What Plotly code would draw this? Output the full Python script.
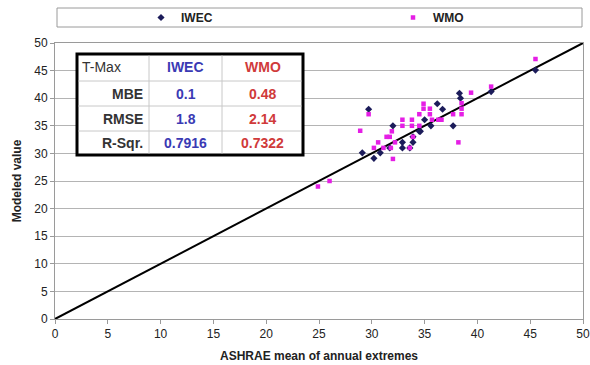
import plotly.graph_objects as go

# Observed (ASHRAE mean of annual extremes) vs modeled T-Max values
iwec_x = [29.7, 29.1, 30.2, 30.8, 31.7, 32.0, 32.9, 32.9, 33.6, 33.9, 33.9, 34.5,
          34.6, 35.0, 35.6, 36.2, 36.7, 37.7, 38.3, 38.4, 41.3, 45.5]
iwec_y = [38.0, 30.1, 29.1, 30.1, 31.0, 35.0, 32.0, 31.0, 31.0, 33.0, 32.0, 34.0,
          34.0, 36.1, 35.0, 39.0, 38.0, 35.0, 40.9, 40.0, 41.2, 45.1]

wmo_x = [24.9, 26.0, 28.9, 29.7, 30.2, 30.6, 31.1, 31.4, 31.7, 31.8, 31.9, 32.0,
         32.2, 32.9, 32.9, 33.6, 33.8, 33.8, 33.9, 34.5, 34.5, 34.9, 34.9, 35.5,
         35.5, 35.7, 36.3, 36.6, 37.7, 38.2, 38.5, 38.5, 38.5, 39.4, 41.3, 45.5]
wmo_y = [24.0, 25.0, 34.1, 37.1, 31.0, 32.0, 31.0, 33.0, 33.0, 31.0, 34.0, 29.0,
         32.0, 36.1, 35.0, 31.0, 36.1, 35.0, 33.0, 35.0, 37.1, 39.0, 38.1, 38.1,
         37.1, 36.1, 36.1, 36.1, 37.1, 32.0, 39.1, 38.1, 37.1, 41.0, 42.1, 47.1]

# 1:1 reference line
ref_line = [0, 50]

# Statistics table
table_header = ["T-Max", "IWEC", "WMO"]
table_rows = ["MBE", "RMSE", "R-Sqr."]
iwec_stats = ["0.1", "1.8", "0.7916"]
wmo_stats = ["0.48", "2.14", "0.7322"]

W, H = 590, 365
ML, MR, MT, MB = 55, 7, 43, 46
PW, PH = W - ML - MR, H - MT - MB


def px(x):
    return (x - ML) / PW


def py(y):
    return (H - MB - y) / PH


NAVY = "#1c1c5a"
MAGENTA = "#e51ee5"
BLUE = "#3a3ab4"
RED = "#d03a3a"
FONT = "Liberation Sans, Arial, sans-serif"

fig = go.Figure()
fig.add_trace(go.Scatter(x=ref_line, y=ref_line, mode="lines",
                         line=dict(color="black", width=2), showlegend=False,
                         hoverinfo="skip"))
fig.add_trace(go.Scatter(x=iwec_x, y=iwec_y, mode="markers", name="<b>IWEC</b>",
                         legend="legend",
                         marker=dict(symbol="diamond", size=5.5, color=NAVY)))
fig.add_trace(go.Scatter(x=wmo_x, y=wmo_y, mode="markers", name="<b>WMO</b>",
                         legend="legend2",
                         marker=dict(symbol="square", size=4.5, color=MAGENTA)))

shapes = []
annotations = []

# Legend frame
shapes.append(dict(type="rect", xref="paper", yref="paper",
                   x0=px(57), x1=px(582), y0=py(27), y1=py(8),
                   line=dict(color="#9a9a9a", width=1), fillcolor="white",
                   layer="below"))

# Statistics table: outer border, column and row separators
tx0, tx1, ty0, ty1 = 77, 303, 54, 155
cols = [tx0, 149, 222, tx1]
rows = [ty0, 81, 106, 131, ty1]
shapes.append(dict(type="rect", xref="paper", yref="paper",
                   x0=px(tx0), x1=px(tx1), y0=py(ty1), y1=py(ty0),
                   line=dict(color="black", width=3), fillcolor="white"))
for c in cols[1:-1]:
    shapes.append(dict(type="line", xref="paper", yref="paper",
                       x0=px(c), x1=px(c), y0=py(ty1 - 1.5), y1=py(ty0 + 1.5),
                       line=dict(color="#c8c8c8", width=1)))
for r in rows[1:-1]:
    shapes.append(dict(type="line", xref="paper", yref="paper",
                       x0=px(tx0 + 1.5), x1=px(tx1 - 1.5), y0=py(r), y1=py(r),
                       line=dict(color="#c8c8c8", width=1)))


def cell_text(text, ci, ri, color, bold=True, align="center"):
    yc = (rows[ri] + rows[ri + 1]) / 2
    if align == "left":
        xa, xan = cols[ci] + 3, "left"
    elif align == "right":
        xa, xan = cols[ci + 1] - 4, "right"
    else:
        xa, xan = (cols[ci] + cols[ci + 1]) / 2, "center"
    annotations.append(dict(xref="paper", yref="paper", x=px(xa), y=py(yc),
                            xanchor=xan, yanchor="middle", showarrow=False,
                            text=f"<b>{text}</b>" if bold else text,
                            font=dict(family=FONT, size=14, color=color)))


cell_text(table_header[0], 0, 0, "#333333", bold=False, align="left")
cell_text(table_header[1], 1, 0, BLUE)
cell_text(table_header[2], 2, 0, RED)
for i, lab in enumerate(table_rows):
    cell_text(lab, 0, i + 1, "#333333", align="right")
    cell_text(iwec_stats[i], 1, i + 1, BLUE)
    cell_text(wmo_stats[i], 2, i + 1, RED)

axis_common = dict(range=[0, 50], dtick=5, showline=True, linecolor="#9a9a9a",
                   linewidth=1, mirror=True, ticks="outside", ticklen=4,
                   tickcolor="#9a9a9a", zeroline=False,
                   tickfont=dict(family=FONT, size=12, color="#222222"))

legend_common = dict(orientation="h", xanchor="left", y=py(17.5),
                     yanchor="middle", bgcolor="rgba(0,0,0,0)",
                     font=dict(family=FONT, size=12, color="#222222"))

fig.update_layout(
    width=W, height=H,
    margin=dict(l=ML, r=MR, t=MT, b=MB, autoexpand=False),
    paper_bgcolor="white", plot_bgcolor="white",
    font=dict(family=FONT, color="#222222"),
    xaxis=dict(**axis_common, showgrid=False,
               title=dict(text="<b>ASHRAE mean of annual extremes</b>",
                          font=dict(size=12), standoff=11)),
    yaxis=dict(**axis_common, showgrid=True, gridcolor="#b4b4b4", gridwidth=1,
               title=dict(text="<b>Modeled value</b>", font=dict(size=12),
                          standoff=10)),
    legend=dict(**legend_common, x=px(141)),
    legend2=dict(**legend_common, x=px(393)),
    shapes=shapes, annotations=annotations,
)

fig.write_html("out.html")
